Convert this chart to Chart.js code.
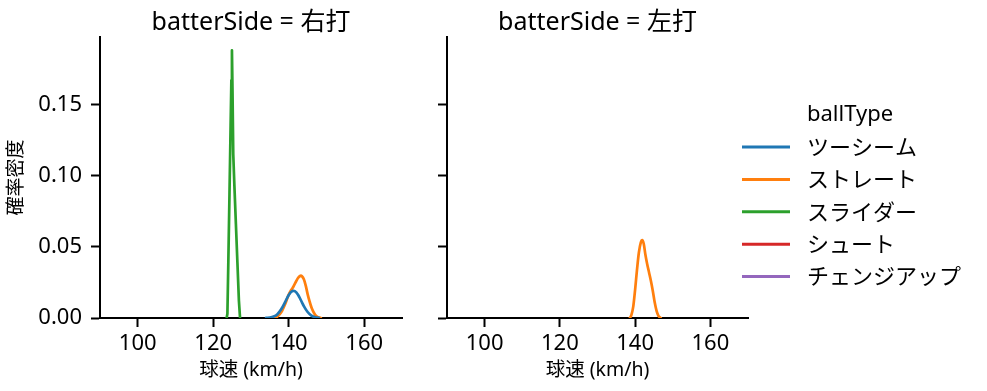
<!DOCTYPE html>
<html><head><meta charset="utf-8">
<script src="https://cdn.jsdelivr.net/npm/chart.js@4/dist/chart.umd.min.js"></script>
<style>
html,body{margin:0;padding:0;background:#fff;overflow:hidden}
#wrap{position:relative;width:987px;height:391px;background:#fff}
canvas{position:absolute;left:0;top:0}
</style></head><body>
<div id="wrap"><canvas id="c1" width="987" height="391"></canvas><canvas id="c2" width="987" height="391"></canvas></div>
<script>
const FONT = "'Noto Sans', 'Noto Sans CJK JP', sans-serif";
const panelTitles = ['batterSide = 右打', 'batterSide = 左打'];
const seriesNames = ['ツーシーム', 'ストレート', 'スライダー', 'シュート', 'チェンジアップ'];
const seriesColors = ['#1f77b4', '#ff7f0e', '#2ca02c', '#d62728', '#9467bd'];
const xTicks = [100, 120, 140, 160];
const yTicks = [0, 0.05, 0.10, 0.15];
const xLabel = '球速 (km/h)';
const yLabel = '確率密度';
const legendTitle = 'ballType';

// 右打 panel
const twoSeamX_R = [134,135,136,137,138,139,139.5,140,140.5,141,141.3,141.6,142,142.5,143,143.5,144,145,146,147,148];
const twoSeamY_R = [0.0001,0.0003,0.001,0.0027,0.0061,0.011,0.0137,0.0161,0.018,0.019,0.0191,0.0189,0.018,0.0161,0.0137,0.011,0.0084,0.0042,0.0017,0.0005,0.0001];
const straightX_R = [136.3,137,138,139,140,140.5,141,141.5,142,142.5,143,143.2,143.5,144,144.5,145,145.5,146,146.5,147,147.5,148.5];
const straightY_R = [0,0.001,0.004,0.0095,0.0165,0.019,0.021,0.0235,0.026,0.0283,0.0295,0.0297,0.0293,0.0272,0.0228,0.0168,0.0118,0.0075,0.0045,0.0022,0.001,0];
const sliderX_R = [123.55,123.75,124.0,124.3,124.6,124.8,124.95,125.1,125.3,125.6,126.0,126.4,126.8,127.1];
const sliderY_R = [0,0.003,0.04,0.087,0.135,0.167,0.188,0.16,0.115,0.093,0.066,0.039,0.012,0];

// 左打 panel
const straightX_L = [138.6,139.0,139.5,140.0,140.5,141.0,141.5,141.9,142.3,142.7,143.2,143.7,144.2,144.7,145.2,145.7,146.2,146.8];
const straightY_L = [0,0.002,0.008,0.020,0.034,0.046,0.053,0.0547,0.052,0.045,0.038,0.032,0.026,0.019,0.011,0.005,0.0015,0];

const toPts = (xs, ys) => xs.map((x, i) => ({x: x, y: ys[i]}));

function ds(idx, xs, ys, smooth) {
  return {
    label: seriesNames[idx],
    data: xs ? toPts(xs, ys) : [],
    borderColor: seriesColors[idx],
    backgroundColor: seriesColors[idx],
    borderWidth: 2.7,
    pointRadius: 0,
    fill: false,
    tension: smooth ? 0.4 : 0,
    cubicInterpolationMode: smooth ? 'monotone' : 'default',
    borderJoinStyle: 'round',
    borderCapStyle: 'round'
  };
}

const titlePlugin = {
  id: 'panelTitle',
  afterDraw(chart, args, opts) {
    const ctx = chart.ctx, a = chart.chartArea;
    ctx.save();
    ctx.font = '25px ' + FONT;
    ctx.fillStyle = '#000';
    ctx.textAlign = 'center';
    ctx.textBaseline = 'middle';
    ctx.fillText(opts.text, (a.left + a.right) / 2, 23);
    ctx.restore();
  }
};

const legendPlugin = {
  id: 'sideLegend',
  afterDraw(chart, args, opts) {
    if (!opts.show) return;
    const ctx = chart.ctx;
    ctx.save();
    ctx.font = '22px ' + FONT;
    ctx.fillStyle = '#000';
    ctx.textAlign = 'left';
    ctx.textBaseline = 'middle';
    ctx.fillText(legendTitle, 807, 115);
    seriesNames.forEach((n, i) => {
      const y = 147 + i * 32.4;
      ctx.strokeStyle = seriesColors[i];
      ctx.lineWidth = 3;
      ctx.beginPath(); ctx.moveTo(742, y); ctx.lineTo(790, y); ctx.stroke();
      ctx.fillText(n, 807, y + 1.5);
    });
    ctx.restore();
  }
};

function makeChart(id, datasets, padL, padR, showYLabels, title, showLegend) {
  return new Chart(document.getElementById(id), {
    type: 'line',
    data: { datasets: datasets },
    plugins: [titlePlugin, legendPlugin],
    options: {
      responsive: false, animation: false, devicePixelRatio: 1,
      layout: { padding: { left: padL, right: padR, top: 37, bottom: 0 } },
      plugins: {
        legend: { display: false }, tooltip: { enabled: false },
        panelTitle: { text: title },
        sideLegend: { show: showLegend }
      },
      scales: {
        x: {
          type: 'linear', min: 90, max: 170,
          afterBuildTicks: s => { s.ticks = xTicks.map(v => ({value: v})); },
          afterFit: s => { s.height = 73; },
          ticks: { color: '#000', font: { family: FONT, size: 22 }, padding: 4, maxRotation: 0,
                   callback: v => String(v) },
          grid: { drawOnChartArea: false, drawTicks: true, tickLength: 9, tickWidth: 2, tickColor: '#000' },
          border: { display: true, color: '#000', width: 2 },
          title: { display: true, text: xLabel, color: '#000', font: { family: FONT, size: 19.5 },
                   padding: { top: 0, bottom: 9 } }
        },
        y: {
          type: 'linear', min: 0, max: 0.1974,
          afterBuildTicks: s => { s.ticks = yTicks.map(v => ({value: v})); },
          afterFit: s => { s.width = 100; },
          ticks: { color: '#000', font: { family: FONT, size: 22 }, padding: 9,
                   callback: v => showYLabels ? Number(v).toFixed(2) : '' },
          grid: { drawOnChartArea: false, drawTicks: true, tickLength: 9, tickWidth: 2, tickColor: '#000' },
          border: { display: true, color: '#000', width: 2 },
          title: { display: showYLabels, text: yLabel, color: '#000', font: { family: FONT, size: 19 },
                   padding: { top: 5, bottom: 0 } }
        }
      }
    }
  });
}

makeChart('c1', [
  ds(0, twoSeamX_R, twoSeamY_R, true),
  ds(1, straightX_R, straightY_R, true),
  ds(2, sliderX_R, sliderY_R, false),
  ds(3, null, null, true),
  ds(4, null, null, true)
], 0, 585, true, panelTitles[0], false);

makeChart('c2', [
  ds(0, null, null, true),
  ds(1, straightX_L, straightY_L, true),
  ds(2, null, null, false),
  ds(3, null, null, true),
  ds(4, null, null, true)
], 347, 239, false, panelTitles[1], true);
</script>
</body></html>
